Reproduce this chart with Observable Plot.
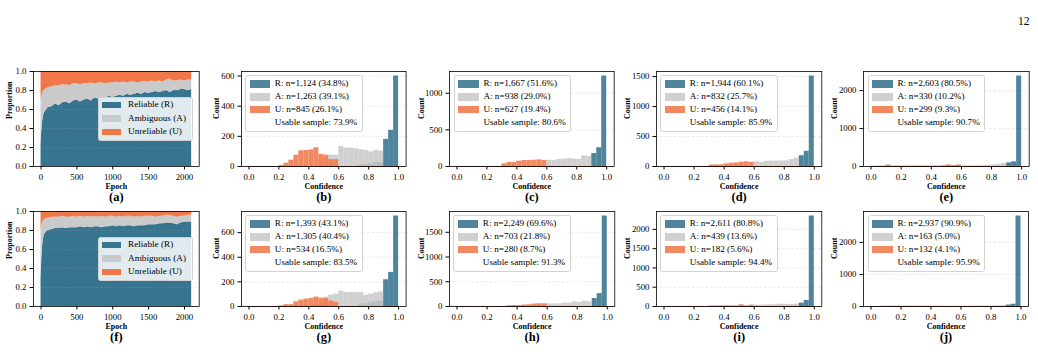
<!DOCTYPE html>
<html><head><meta charset="utf-8">
<script src="https://cdn.jsdelivr.net/npm/d3@7"></script>
<script src="https://cdn.jsdelivr.net/npm/@observablehq/plot@0.6"></script>
<style>
html,body{margin:0;padding:0;background:#fff;}
#root{position:relative;width:1038px;height:352px;overflow:hidden;font-family:"Liberation Serif","Times New Roman",serif;color:#000;}
.panel{position:absolute;}
.legend{position:absolute;background:rgba(255,255,255,0.85);border:0.8px solid #d2d2d2;border-radius:2.5px;box-sizing:border-box;font-size:9.2px;line-height:1;white-space:nowrap;}
.lrow{display:flex;align-items:center;}
.patch{display:inline-block;flex:none;}
.pagenum{position:absolute;font-size:11.5px;}
</style></head>
<body><div id="root"></div>
<script>
// ---------- data ----------
const epochs = [0,10,20,30,45,60,80,100,150,200,250,300,350,400,450,500,550,600,650,700,750,800,850,900,950,1000,1050,1100,1150,1200,1250,1300,1350,1400,1450,1500,1550,1600,1650,1700,1750,1800,1850,1900,1950,2000,2050,2100];
// panel (a) proportions
const aR = [.22,.38,.46,.52,.56,.58,.60,.62,.63,.66,.64,.67,.68,.66,.69,.70,.68,.70,.71,.69,.72,.71,.73,.72,.74,.73,.74,.75,.74,.76,.75,.76,.77,.76,.78,.77,.78,.79,.78,.79,.80,.78,.80,.80,.81,.81,.80,.81];
const aA = [.48,.36,.31,.27,.24,.23,.22,.21,.21,.19,.21,.19,.18,.19,.18,.17,.18,.17,.16,.19,.15,.17,.15,.15,.14,.15,.15,.13,.15,.12,.14,.13,.11,.13,.11,.12,.12,.10,.12,.10,.11,.14,.10,.10,.10,.09,.11,.10];
const aU = [.30,.26,.23,.21,.20,.19,.18,.17,.16,.15,.15,.14,.14,.15,.13,.13,.14,.13,.13,.12,.13,.12,.12,.13,.12,.12,.11,.12,.11,.12,.11,.11,.12,.11,.11,.11,.10,.11,.10,.11,.09,.08,.10,.10,.09,.10,.09,.09];
// panel (f) proportions
const fR = [.30,.50,.62,.70,.75,.77,.79,.80,.81,.82,.82,.83,.82,.83,.83,.83,.84,.83,.84,.83,.84,.84,.83,.84,.84,.85,.84,.85,.84,.85,.85,.84,.85,.85,.85,.86,.86,.86,.87,.87,.88,.88,.87,.86,.88,.89,.89,.89];
const fA = [.50,.35,.26,.20,.16,.15,.14,.13,.13,.12,.12,.12,.12,.11,.12,.11,.11,.11,.11,.11,.11,.10,.12,.10,.11,.10,.10,.10,.10,.10,.10,.10,.10,.09,.10,.09,.09,.08,.08,.08,.08,.08,.08,.08,.07,.06,.07,.07];
const fU = [.20,.15,.12,.10,.09,.08,.07,.07,.06,.06,.06,.05,.06,.06,.05,.06,.05,.06,.05,.06,.05,.06,.05,.06,.05,.05,.06,.05,.06,.05,.05,.06,.05,.06,.05,.05,.05,.06,.05,.05,.04,.04,.05,.06,.05,.05,.04,.04];

// histogram counts, 30 bins on [0,1]
const bR = [0,0,0,0,0,0,0,0,0,0, 0,0,0,0,0,0,0,0,0,0, 0,0,8,12,18,27,27,180,240,600];
const bA = [0,0,0,0,0,0,0,0,0,0, 0,0,0,0,40,60,75,75,133,122, 122,118,111,107,96,107,102,0,0,0];
const bU = [0,0,0,0,0,0,7,22,42,75, 104,106,110,124,80,75,45,45,0,0, 0,0,0,0,0,0,0,0,0,0];

const cR = [0,0,0,0,0,0,0,0,0,0, 0,0,0,0,0,0,0,0,0,0, 0,0,0,0,0,0,0,176,256,1235];
const cA = [0,0,0,0,0,0,0,0,0,0, 0,0,0,0,0,0,0,0,86,81, 95,100,108,100,95,145,136,0,0,0];
const cU = [0,0,0,0,0,0,0,0,0,36, 54,54,72,81,81,86,90,81,0,0, 0,0,0,0,0,0,0,0,0,0];

const dR = [0,0,0,0,0,0,0,0,0,0, 0,0,0,0,0,0,0,0,0,0, 0,0,0,0,0,0,0,180,254,1510];
const dA = [0,0,0,0,0,0,0,0,0,0, 0,0,0,0,0,0,0,0,80,70, 85,90,90,92,92,115,140,0,0,0];
const dU = [0,0,0,0,0,0,0,0,0,25, 28,28,44,55,60,72,78,70,0,0, 0,0,0,0,0,0,0,0,0,0];

const eR = [0,0,0,0,0,0,0,0,0,0, 0,0,0,0,0,0,0,0,0,0, 0,0,0,0,0,0,0,95,123,2385];
const eA = [0,0,0,0,0,0,0,0,0,0, 0,0,0,0,5,5,8,8,15,15, 18,20,25,30,40,55,85,0,0,0];
const eU = [5,8,10,40,10,10,10,10,12,12, 12,12,12,12,20,40,24,40,0,0, 0,0,0,0,0,0,0,0,0,0];

const gR = [0,0,0,0,0,0,0,0,0,0, 0,0,0,0,0,0,0,0,0,0, 0,0,20,25,34,40,45,217,277,735];
const gA = [0,0,0,0,0,0,0,0,0,0, 0,0,0,15,20,76,92,100,125,114, 114,114,114,92,100,111,119,0,0,0];
const gU = [0,0,0,0,0,0,5,15,15,38, 52,60,65,76,68,65,45,33,0,0, 0,0,0,0,0,0,0,0,0,0];

const hR = [0,0,0,0,0,0,0,0,0,0, 0,0,0,0,0,0,0,0,0,0, 0,0,0,0,0,0,0,160,260,1829];
const hA = [0,0,0,0,0,0,0,0,0,0, 0,0,0,0,10,8,8,0,54,54, 54,68,68,95,81,108,95,0,0,0];
const hU = [0,0,0,0,0,0,0,0,0,0, 15,20,20,30,35,50,55,55,0,0, 0,0,0,0,0,0,0,0,0,0];

const iR = [0,0,0,0,0,0,0,0,0,0, 0,0,0,0,0,0,0,0,0,0, 0,0,0,0,5,7,9,87,156,2347];
const iA = [0,0,0,0,0,0,0,0,0,0, 0,0,0,0,0,0,0,0,35,35, 40,45,55,60,55,55,60,0,0,0];
const iU = [0,0,0,0,0,0,0,0,0,12, 15,15,15,15,15,45,15,35,0,0, 0,0,0,0,0,0,0,0,0,0];

const jR = [0,0,0,0,0,0,0,0,0,0, 0,0,0,0,0,0,0,0,0,0, 0,0,0,0,0,0,0,45,70,2822];
const jA = [0,0,0,0,0,0,0,0,0,0, 0,0,0,0,0,0,0,0,10,12, 14,16,18,20,22,24,27,0,0,0];
const jU = [0,0,8,10,10,10,10,10,10,10, 10,8,8,8,6,6,4,4,0,0, 0,0,0,0,0,0,0,0,0,0];

// tick labels
const epochTicks = [0,500,1000,1500,2000];
const propTicks = [0,0.2,0.4,0.6,0.8,1.0];
const confTicks = [0,0.2,0.4,0.6,0.8,1.0];
const yTicks = {b:[0,200,400,600], c:[0,500,1000], d:[0,500,1000,1500], e:[0,1000,2000],
                g:[0,200,400,600], h:[0,500,1000,1500], i:[0,500,1000,1500,2000], j:[0,1000,2000]};

// legend texts
const areaLegend = ["Reliable (R)", "Ambiguous (A)", "Unreliable (U)"];
const legendText = {
  b: ["R: n=1,124 (34.8%)", "A: n=1,263 (39.1%)", "U: n=845 (26.1%)", "Usable sample: 73.9%"],
  c: ["R: n=1,667 (51.6%)", "A: n=938 (29.0%)", "U: n=627 (19.4%)", "Usable sample: 80.6%"],
  d: ["R: n=1,944 (60.1%)", "A: n=832 (25.7%)", "U: n=456 (14.1%)", "Usable sample: 85.9%"],
  e: ["R: n=2,603 (80.5%)", "A: n=330 (10.2%)", "U: n=299 (9.3%)", "Usable sample: 90.7%"],
  g: ["R: n=1,393 (43.1%)", "A: n=1,305 (40.4%)", "U: n=534 (16.5%)", "Usable sample: 83.5%"],
  h: ["R: n=2,249 (69.6%)", "A: n=703 (21.8%)", "U: n=280 (8.7%)", "Usable sample: 91.3%"],
  i: ["R: n=2,611 (80.8%)", "A: n=439 (13.6%)", "U: n=182 (5.6%)", "Usable sample: 94.4%"],
  j: ["R: n=2,937 (90.9%)", "A: n=163 (5.0%)", "U: n=132 (4.1%)", "Usable sample: 95.9%"]
};
const captions = {a:"(a)",b:"(b)",c:"(c)",d:"(d)",e:"(e)",f:"(f)",g:"(g)",h:"(h)",i:"(i)",j:"(j)"};

// ---------- style / layout ----------
const colR = "#36748f", colA = "#cacaca", colU = "#ef7749";
const histOpacity = 0.88;
const edgeCol = "#b9532c";
const FONT = "'Liberation Serif','Times New Roman',serif";
const ML = 40, MR = 6, MT = 6, MB = 42, FH = 95;
const frames = {
  a:{l:33.3,t:71,w:165.7}, b:{l:240.7,t:71,w:164.6}, c:{l:449.3,t:71,w:164.7}, d:{l:655.7,t:71,w:165.3}, e:{l:863.3,t:71,w:165.7},
  f:{l:33.3,t:211,w:165.7}, g:{l:240.7,t:211,w:164.6}, h:{l:448.7,t:211,w:165.3}, i:{l:655.7,t:211,w:165.3}, j:{l:863.3,t:211,w:165}
};
const yLabOff = {a:23.7,f:23.7,b:24.7,g:24.7,c:28.5,h:28.5,d:29.5,i:29.5,e:29.5,j:29.5};

const root = document.getElementById("root");
const binEdges = d3.range(31).map(i => i / 30);

function place(node, key) {
  const f = frames[key];
  node.classList.add("panel");
  node.style.left = (f.l - ML) + "px";
  node.style.top = (f.t - MT) + "px";
  root.appendChild(node);
}

function labelMarks(key, xLab, yLab) {
  return [
    Plot.text([xLab], {text: d => d, frameAnchor: "bottom", dy: 19.7, lineAnchor: "middle", fontWeight: "bold", fontSize: 8, fill: "black"}),
    Plot.text([yLab], {text: d => d, frameAnchor: "left", dx: -yLabOff[key], rotate: -90, lineAnchor: "middle", fontWeight: "bold", fontSize: 8, fill: "black"}),
    Plot.text([captions[key]], {text: d => d, frameAnchor: "bottom", dy: 30.5, lineAnchor: "middle", fontWeight: "bold", fontSize: 12.5, fill: "black"})
  ];
}

function areaPanel(key, R, A, U) {
  const f = frames[key];
  const rows = [];
  epochs.forEach((e, i) => {
    rows.push({e, k: "R", v: R[i]}, {e, k: "A", v: A[i]}, {e, k: "U", v: U[i]});
  });
  const p = Plot.plot({
    width: f.w + ML + MR, height: FH + MT + MB,
    marginLeft: ML, marginRight: MR, marginTop: MT, marginBottom: MB,
    style: {fontFamily: FONT, fontSize: "8.8px", background: "transparent", overflow: "visible", color: "black"},
    x: {domain: [-105, 2205], ticks: epochTicks, tickFormat: d3.format("d"), tickSize: 3.5, tickPadding: 3.5, label: null},
    y: {domain: [0, 1], ticks: propTicks, tickFormat: d3.format(".1f"), tickSize: 3.5, tickPadding: 3.5, label: null},
    color: {domain: ["R", "A", "U"], range: [colR, colA, colU]},
    marks: [
      Plot.areaY(rows, {x: "e", y: "v", fill: "k", z: "k", order: ["R", "A", "U"], clip: true}),
      Plot.gridY(propTicks, {stroke: "#b0b0b0", strokeOpacity: 0.35, strokeDasharray: "2.5,2", strokeWidth: 0.6}),
      Plot.frame({stroke: "black", strokeWidth: 0.8}),
      ...labelMarks(key, "Epoch", "Proportion")
    ]
  });
  place(p, key);
  // legend
  const lg = document.createElement("div");
  lg.className = "legend";
  lg.style.top = (f.t + 26.3) + "px";
  lg.style.padding = "0px 6px 0.9px 3.4px";
  [colR, colA, colU].forEach((c, i) => {
    const r = document.createElement("div");
    r.className = "lrow"; r.style.height = "13.5px";
    const pt = document.createElement("span");
    pt.className = "patch"; pt.style.width = "19.3px"; pt.style.height = "6.8px"; pt.style.background = c; pt.style.marginRight = "6.7px";
    const t = document.createElement("span"); t.textContent = areaLegend[i];
    r.appendChild(pt); r.appendChild(t); lg.appendChild(r);
  });
  root.appendChild(lg);
  lg.style.left = (f.l + f.w - 6.3 - lg.offsetWidth) + "px";
}

function histPanel(key, R, A, U) {
  const f = frames[key];
  const mk = (arr) => arr.map((c, i) => ({x1: binEdges[i], x2: binEdges[i + 1], c, z: 0})).filter(d => d.c > 0);
  const all = [...R, ...A, ...U];
  const ymax = d3.max(all) * 1.05;
  const ticks = yTicks[key];
  const p = Plot.plot({
    width: f.w + ML + MR, height: FH + MT + MB,
    marginLeft: ML, marginRight: MR, marginTop: MT, marginBottom: MB,
    style: {fontFamily: FONT, fontSize: "8.8px", background: "transparent", overflow: "visible", color: "black"},
    x: {domain: [-0.05, 1.05], ticks: confTicks, tickFormat: d3.format(".1f"), tickSize: 3.5, tickPadding: 3.5, label: null},
    y: {domain: [0, ymax], ticks: ticks, tickFormat: d3.format("d"), tickSize: 3.5, tickPadding: 3.5, label: null},
    marks: [
      Plot.gridY(ticks, {stroke: "#b0b0b0", strokeOpacity: 0.5, strokeDasharray: "2.5,2", strokeWidth: 0.6}),
      Plot.rect(mk(R), {x1: "x1", x2: "x2", y1: "z", y2: "c", fill: colR, fillOpacity: histOpacity}),
      Plot.rect(mk(A), {x1: "x1", x2: "x2", y1: "z", y2: "c", fill: colA, fillOpacity: histOpacity}),
      Plot.rect(mk(U), {x1: "x1", x2: "x2", y1: "z", y2: "c", fill: colU, fillOpacity: histOpacity}),
      Plot.ruleY([0], {x1: binEdges[0], x2: binEdges[30], stroke: edgeCol, strokeWidth: 1}),
      Plot.frame({stroke: "black", strokeWidth: 0.8}),
      ...labelMarks(key, "Confidence", "Count")
    ]
  });
  place(p, key);
  const lg = document.createElement("div");
  lg.className = "legend";
  lg.style.left = (f.l + 4.6) + "px";
  lg.style.top = (f.t + 3.6) + "px";
  lg.style.padding = "2px 4.6px 2px 3.5px";
  const txt = legendText[key];
  [colR, colA, colU, null].forEach((c, i) => {
    const r = document.createElement("div");
    r.className = "lrow"; r.style.height = "12.8px";
    const pt = document.createElement("span");
    pt.className = "patch"; pt.style.width = "20.6px"; pt.style.height = "7.6px"; pt.style.marginRight = "4.4px";
    if (c) { pt.style.background = c; pt.style.opacity = histOpacity; }
    const t = document.createElement("span"); t.textContent = txt[i];
    r.appendChild(pt); r.appendChild(t); lg.appendChild(r);
  });
  root.appendChild(lg);
}

areaPanel("a", aR, aA, aU);
histPanel("b", bR, bA, bU);
histPanel("c", cR, cA, cU);
histPanel("d", dR, dA, dU);
histPanel("e", eR, eA, eU);
areaPanel("f", fR, fA, fU);
histPanel("g", gR, gA, gU);
histPanel("h", hR, hA, hU);
histPanel("i", iR, iA, iU);
histPanel("j", jR, jA, jU);

const pn = document.createElement("div");
pn.className = "pagenum"; pn.textContent = "12";
pn.style.left = "1018px"; pn.style.top = "15px";
root.appendChild(pn);
</script>
</body></html>
